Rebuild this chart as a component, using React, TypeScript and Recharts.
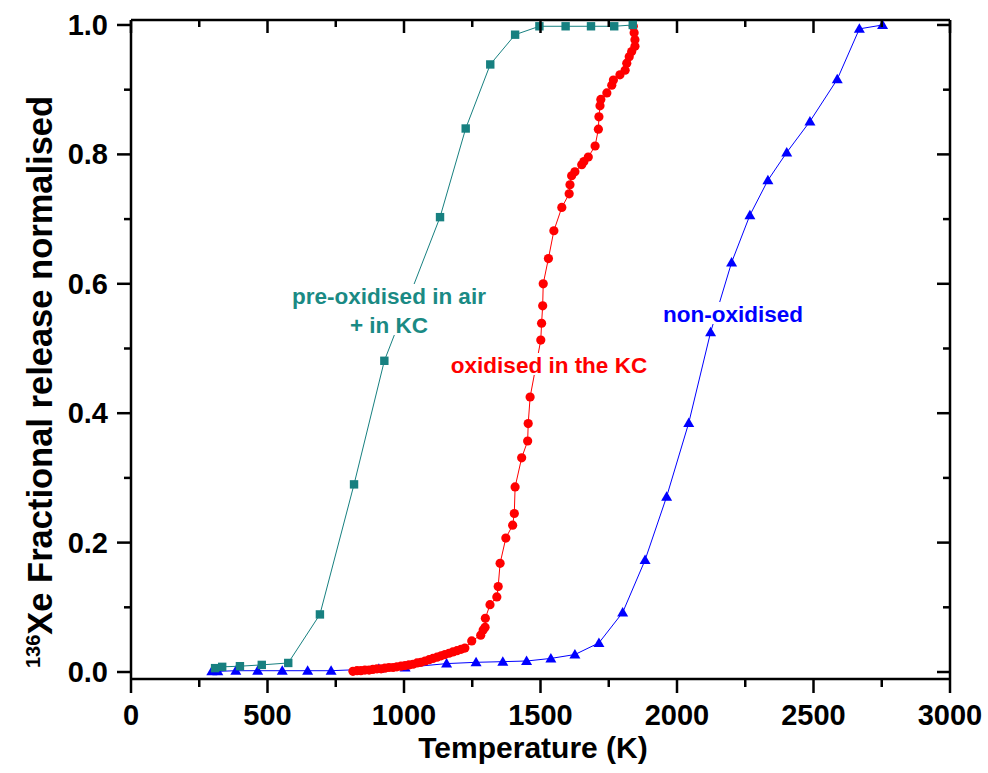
import React from 'react';
import { ScatterChart, Scatter, XAxis, YAxis } from 'recharts';

// pre-oxidised in air + in KC
const preOxTemp = [308, 334, 399, 479, 576, 692, 817, 928, 1132, 1226, 1316, 1407, 1496, 1592, 1685, 1770, 1838];
const preOxRelease = [0.006, 0.008, 0.009, 0.011, 0.014, 0.089, 0.29, 0.481, 0.703, 0.84, 0.939, 0.985, 0.998, 0.998, 0.998, 0.998, 1.0];

// oxidised in the KC
const oxKcTemp = [
  813, 828, 842, 857, 872, 886, 901, 916, 930, 945, 960, 974, 989, 1004, 1018, 1033, 1048, 1062, 1077, 1092,
  1106, 1121, 1136, 1150, 1165, 1179, 1194, 1209, 1223, 1248, 1281, 1290, 1297, 1298, 1315, 1340, 1345, 1352,
  1373, 1398, 1404, 1407, 1431, 1453, 1455, 1462, 1501, 1504, 1508, 1510, 1529, 1549, 1578, 1605, 1608, 1614,
  1626, 1651, 1659, 1675, 1700, 1712, 1714, 1718, 1721, 1743, 1761, 1767, 1791, 1810, 1816, 1825, 1834, 1846,
  1846, 1843, 1840,
];
const oxKcRelease = [
  0.001, 0.002, 0.002, 0.003, 0.003, 0.004, 0.005, 0.005, 0.006, 0.007, 0.007, 0.008, 0.009, 0.01, 0.011, 0.012,
  0.014, 0.015, 0.017, 0.019, 0.021, 0.023, 0.025, 0.027, 0.029, 0.031, 0.033, 0.035, 0.037, 0.048, 0.057, 0.065,
  0.069, 0.083, 0.104, 0.116, 0.132, 0.168, 0.207, 0.227, 0.245, 0.286, 0.331, 0.357, 0.384, 0.425, 0.513, 0.539,
  0.566, 0.6, 0.639, 0.682, 0.718, 0.739, 0.753, 0.767, 0.773, 0.784, 0.789, 0.796, 0.813, 0.839, 0.858, 0.875,
  0.885, 0.895, 0.907, 0.915, 0.923, 0.93, 0.941, 0.951, 0.959, 0.967, 0.977, 0.988, 0.998,
];

// non-oxidised
const nonOxTemp = [
  296, 318, 384, 464, 554, 647, 733, 908, 1004, 1156, 1264, 1362, 1449, 1538, 1626, 1714, 1801, 1883, 1962, 2043,
  2123, 2200, 2267, 2333, 2402, 2487, 2587, 2668, 2753,
];
const nonOxRelease = [
  0.001, 0.001, 0.002, 0.002, 0.002, 0.002, 0.002, 0.005, 0.007, 0.013, 0.015, 0.016, 0.017, 0.021, 0.027, 0.045,
  0.092, 0.173, 0.271, 0.385, 0.525, 0.633, 0.706, 0.76, 0.803, 0.851, 0.916, 0.994, 1.0,
];

const tempTicks = [0, 250, 500, 750, 1000, 1250, 1500, 1750, 2000, 2250, 2500, 2750, 3000];
const releaseTicks = [0, 0.1, 0.2, 0.3, 0.4, 0.5, 0.6, 0.7, 0.8, 0.9, 1.0];

const TEAL = '#178080';
const TEAL_TEXT = '#1a8a84';
const RED = '#ff0000';
const BLUE = '#0000ff';
const FONT = '"Liberation Sans", Arial, sans-serif';

const W = 988;
const H = 773;

const toPoints = (temps: number[], vals: number[]) => temps.map((t, i) => ({ t, f: vals[i] }));

const isMajorTemp = (v: number) => v % 500 === 0;
const isMajorRelease = (v: number) => Math.round(v * 10) % 2 === 0;

const BottomTick = ({ x, y, payload }: any) => {
  const major = isMajorTemp(payload.value);
  return (
    <g>
      <line x1={x} y1={y} x2={x} y2={y + (major ? 14 : 8)} stroke="#000" strokeWidth={2.5} />
      {major && (
        <text x={x} y={y + 46} textAnchor="middle" fontSize={29} fontWeight="bold" fontFamily={FONT} fill="#000">
          {payload.value}
        </text>
      )}
    </g>
  );
};

const TopTick = ({ x, y, payload }: any) => {
  const major = isMajorTemp(payload.value);
  return <line x1={x} y1={y} x2={x} y2={y + (major ? 13 : 7)} stroke="#000" strokeWidth={2.5} />;
};

const LeftTick = ({ x, y, payload }: any) => {
  const major = isMajorRelease(payload.value);
  return (
    <g>
      <line x1={x} y1={y} x2={x - (major ? 14 : 7)} y2={y} stroke="#000" strokeWidth={2.5} />
      {major && (
        <text x={x - 23} y={y + 10} textAnchor="end" fontSize={29} fontWeight="bold" fontFamily={FONT} fill="#000">
          {payload.value.toFixed(1)}
        </text>
      )}
    </g>
  );
};

const RightTick = ({ x, y, payload }: any) => {
  const major = isMajorRelease(payload.value);
  return <line x1={x} y1={y} x2={x - (major ? 13 : 7)} y2={y} stroke="#000" strokeWidth={2.5} />;
};

const SquareDot = ({ cx, cy }: any) => <rect x={cx - 4.2} y={cy - 4.2} width={8.4} height={8.4} fill={TEAL} />;
const CircleDot = ({ cx, cy }: any) => <circle cx={cx} cy={cy} r={4.6} fill={RED} />;
const TriangleDot = ({ cx, cy }: any) => (
  <polygon points={`${cx},${cy - 5.5} ${cx - 5.5},${cy + 4} ${cx + 5.5},${cy + 4}`} fill={BLUE} />
);

const axisLine = { stroke: '#000', strokeWidth: 2.5 };
const tempDomain = [0, 3000];
const releaseDomain = [-0.0108, 1.0077];

// series label drawn on a white patch so the curve is broken under it
const SeriesLabel = ({ x, y, w, color, lines }: { x: number; y: number; w: number; color: string; lines: string[] }) => (
  <g>
    <rect x={x - w / 2} y={y - 20} width={w} height={22 + (lines.length - 1) * 29} fill="#fff" />
    {lines.map((s, i) => (
      <text key={s} x={x} y={y + i * 29} textAnchor="middle" fontSize={22.5} fontWeight="bold" fontFamily={FONT} fill={color}>
        {s}
      </text>
    ))}
  </g>
);

export default function App() {
  return (
    <div style={{ position: 'absolute', left: 0, top: 0, width: W, height: H, background: '#fff' }}>
      <ScatterChart width={W} height={H} margin={{ top: 10, right: 28, bottom: 34, left: 31 }}>
        <XAxis
          xAxisId="bottom"
          dataKey="t"
          type="number"
          orientation="bottom"
          domain={tempDomain}
          allowDataOverflow
          ticks={tempTicks}
          interval={0}
          height={60}
          tickSize={0}
          tickMargin={0}
          tickLine={false}
          axisLine={axisLine}
          tick={BottomTick}
        />
        <XAxis
          xAxisId="top"
          dataKey="t"
          type="number"
          orientation="top"
          domain={tempDomain}
          allowDataOverflow
          ticks={tempTicks}
          interval={0}
          height={10}
          tickSize={0}
          tickMargin={0}
          tickLine={false}
          axisLine={axisLine}
          tick={TopTick}
        />
        <YAxis
          yAxisId="left"
          dataKey="f"
          type="number"
          orientation="left"
          domain={releaseDomain}
          allowDataOverflow
          ticks={releaseTicks}
          interval={0}
          width={100}
          tickSize={0}
          tickMargin={0}
          tickLine={false}
          axisLine={axisLine}
          tick={LeftTick}
        />
        <YAxis
          yAxisId="right"
          dataKey="f"
          type="number"
          orientation="right"
          domain={releaseDomain}
          allowDataOverflow
          ticks={releaseTicks}
          interval={0}
          width={10}
          tickSize={0}
          tickMargin={0}
          tickLine={false}
          axisLine={axisLine}
          tick={RightTick}
        />
        <Scatter
          xAxisId="bottom"
          yAxisId="left"
          data={toPoints(nonOxTemp, nonOxRelease)}
          line={{ stroke: BLUE, strokeWidth: 1 }}
          lineType="joint"
          shape={TriangleDot}
          isAnimationActive={false}
        />
        <Scatter
          xAxisId="bottom"
          yAxisId="left"
          data={toPoints(oxKcTemp, oxKcRelease)}
          line={{ stroke: RED, strokeWidth: 1 }}
          lineType="joint"
          shape={CircleDot}
          isAnimationActive={false}
        />
        <Scatter
          xAxisId="bottom"
          yAxisId="left"
          data={toPoints(preOxTemp, preOxRelease)}
          line={{ stroke: TEAL, strokeWidth: 1 }}
          lineType="joint"
          shape={SquareDot}
          isAnimationActive={false}
        />
      </ScatterChart>

      <svg width={W} height={H} style={{ position: 'absolute', left: 0, top: 0, pointerEvents: 'none' }}>
        <SeriesLabel x={389} y={304} w={204} color={TEAL_TEXT} lines={['pre-oxidised in air', '+ in KC']} />
        <SeriesLabel x={549} y={373} w={206} color={RED} lines={['oxidised in the KC']} />
        <SeriesLabel x={733} y={322} w={148} color={BLUE} lines={['non-oxidised']} />

        <text x={533} y={758} textAnchor="middle" fontSize={30} fontWeight="bold" fontFamily={FONT} fill="#000">
          Temperature (K)
        </text>
        <text
          x={52}
          y={382}
          transform="rotate(-90, 52, 382)"
          textAnchor="middle"
          fontSize={34.5}
          fontWeight="bold"
          fontFamily={FONT}
          fill="#000"
        >
          <tspan fontSize={20} dy={-12}>136</tspan>
          <tspan dy={12}>Xe Fractional release normalised</tspan>
        </text>
      </svg>
    </div>
  );
}
